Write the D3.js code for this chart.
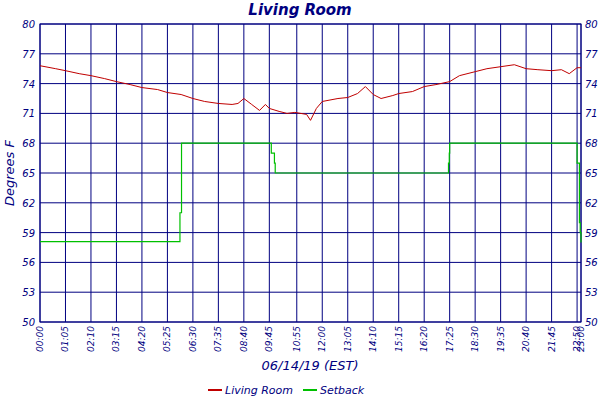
<!DOCTYPE html><html><head><script src="https://cdn.jsdelivr.net/npm/d3@7"></script>
<style>body{margin:0;background:#fff}text{font-family:"DejaVu Sans",sans-serif;font-style:italic;fill:#000080}</style></head><body>
<script>
const xTickMinutes=[0,65,130,195,260,325,390,455,520,585,655,720,785,850,915,980,1045,1110,1175,1240,1305,1370,1380];
const xTickLabels=["00:00","01:05","02:10","03:15","04:20","05:25","06:30","07:35","08:40","09:45","10:55","12:00","13:05","14:10","15:15","16:20","17:25","18:30","19:35","20:40","21:45","22:50","23:00"];
const yTicks=[50,53,56,59,62,65,68,71,74,77,80];
const roomMin=[0,40,65,100,130,165,195,230,260,300,325,360,390,420,455,490,505,520,540,560,575,585,610,630,650,680,690,705,720,760,785,810,830,850,870,900,915,950,980,1010,1045,1070,1110,1140,1175,1210,1240,1270,1305,1330,1350,1370,1380];
const roomVal=[75.8,75.5,75.3,75.0,74.8,74.5,74.2,73.9,73.6,73.4,73.1,72.9,72.5,72.2,72.0,71.9,72.0,72.5,71.9,71.3,71.9,71.5,71.2,71.0,71.1,70.9,70.3,71.5,72.2,72.5,72.6,73.0,73.7,72.9,72.5,72.8,73.0,73.2,73.7,73.9,74.2,74.8,75.2,75.5,75.7,75.9,75.5,75.4,75.3,75.4,75.0,75.6,75.6];
const setMin=[0,356,357,360,361,588,590,598,600,1040,1042,1044,1045,1369,1370,1376,1378,1380];
const setVal=[58.1,58.1,61,61,68,68,67,66,65,65,66,67,68,68,66,60,59,58];
const W=600,H=400,m={l:40,r:19,t:24,b:78};
const svg=d3.select("body").append("svg").attr("width",W).attr("height",H);
const x=d3.scaleLinear().domain([0,1380]).range([m.l,W-m.r]);
const y=d3.scaleLinear().domain([50,80]).range([H-m.b,m.t]);
const g=svg.append("g");
g.selectAll(".vx").data(xTickMinutes).join("line").attr("x1",d=>x(d)).attr("x2",d=>x(d)).attr("y1",y(50)).attr("y2",y(80)).attr("stroke","#000080");
g.selectAll(".hy").data(yTicks).join("line").attr("x1",x(0)).attr("x2",x(1380)).attr("y1",d=>y(d)).attr("y2",d=>y(d)).attr("stroke","#000080");
g.append("rect").attr("x",x(0)).attr("y",y(80)).attr("width",x(1380)-x(0)).attr("height",y(50)-y(80)).attr("fill","none").attr("stroke","#000080");
svg.append("path").datum(setMin.map((d,i)=>[d,setVal[i]])).attr("d",d3.line().x(d=>x(d[0])).y(d=>y(d[1])).curve(d3.curveStepAfter)).attr("fill","none").attr("stroke","#00c000").attr("stroke-width",1.2);
svg.append("path").datum(roomMin.map((d,i)=>[d,roomVal[i]])).attr("d",d3.line().x(d=>x(d[0])).y(d=>y(d[1]))).attr("fill","none").attr("stroke","#c00000").attr("stroke-width",1);
yTicks.forEach(v=>{
 svg.append("text").attr("x",m.l-5).attr("y",y(v)+4).attr("text-anchor","end").attr("font-size",10).text(v);
 svg.append("text").attr("x",W-m.r+4).attr("y",y(v)+4).attr("font-size",10).text(v);
});
xTickMinutes.forEach((v,i)=>svg.append("text").attr("transform",`translate(${x(v)+3},${y(50)+4}) rotate(-90)`).attr("text-anchor","end").attr("font-size",9).text(xTickLabels[i]));
svg.append("text").attr("x",W/2).attr("y",15).attr("text-anchor","middle").attr("font-size",15).attr("font-weight","bold").text("Living Room");
svg.append("text").attr("x",310).attr("y",370).attr("text-anchor","middle").attr("font-size",13).text("06/14/19 (EST)");
svg.append("text").attr("transform",`translate(14,${(m.t+H-m.b)/2}) rotate(-90)`).attr("text-anchor","middle").attr("font-size",13).text("Degrees F");
const leg=[["Living Room","#c00000",208],["Setback","#00c000",303]];
leg.forEach(([t,c,lx])=>{svg.append("line").attr("x1",lx).attr("x2",lx+14).attr("y1",390).attr("y2",390).attr("stroke",c).attr("stroke-width",2);
 svg.append("text").attr("x",lx+17).attr("y",394).attr("font-size",11).text(t);});
</script></body></html>
